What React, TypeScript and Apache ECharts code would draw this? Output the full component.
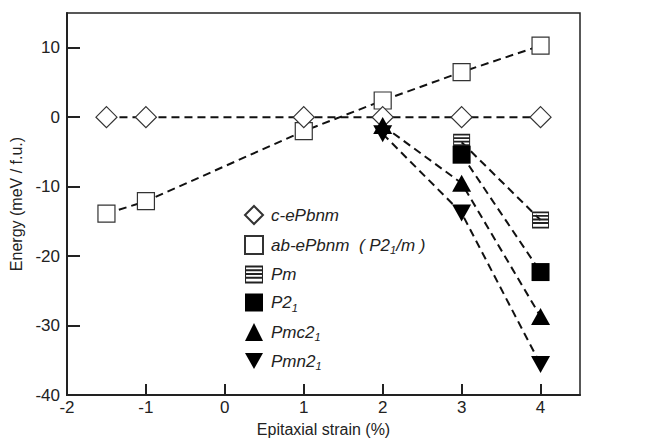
import React, { useEffect, useRef } from "react";
import * as echarts from "echarts";

const strainC = [-1.5, -1, 1, 2, 3, 4];
const energyC = [0, 0, 0, 0, 0, 0];
const strainAB = [-1.5, -1, 1, 2, 3, 4];
const energyAB = [-13.9, -12.1, -2.0, 2.4, 6.5, 10.3];
const strainPm = [3, 4];
const energyPm = [-3.6, -14.8];
const strainP21 = [3, 4];
const energyP21 = [-5.4, -22.3];
const strainPmc = [2, 3, 4];
const energyPmc = [-1.2, -9.5, -28.7];
const strainPmn = [2, 3, 4];
const energyPmn = [-2.4, -13.8, -35.6];

const seriesNames = ["c-ePbnm", "ab-ePbnm", "Pm", "P21", "Pmc21", "Pmn21"];
const legendLabels: Record<string, string> = {
  "c-ePbnm": "{i|c-ePbnm}",
  "ab-ePbnm": "{i|ab-ePbnm  ( P2}{s|1}{i|/m )}",
  Pm: "{i|Pm}",
  P21: "{i|P2}{s|1}",
  Pmc21: "{i|Pmc2}{s|1}",
  Pmn21: "{i|Pmn2}{s|1}",
};

const pmPath =
  "path://M0,0h12v1.3H0Z M0,2.5h12v1.3H0Z M0,5h12v1.3H0Z M0,7.5h12v1.3H0Z M0,10.7h12v1.3H0Z M0,0h0.7v12H0Z M11.3,0h0.7v12h-0.7Z";
const downTri = "path://M0,0L10,0L5,9Z";

const zip = (xs: number[], ys: number[]) => xs.map((x, i) => [x, ys[i]]);

export default function App() {
  const ref = useRef<HTMLDivElement>(null);
  useEffect(() => {
    if (!ref.current) return;
    document.body.style.margin = "0";
    document.body.style.overflow = "hidden";
    const chart = echarts.init(ref.current, undefined, { renderer: "svg" });
    const dash = { type: [8, 5] as any, width: 2, color: "#111" };
    const base = { type: "line", lineStyle: dash, showSymbol: true, z: 2 };
    chart.setOption({
      animation: false,
      textStyle: { fontFamily: "Liberation Sans, Arial, sans-serif" },
      grid: {
        left: 67,
        right: 67,
        top: 13,
        bottom: 42,
        show: true,
        borderColor: "#222",
        borderWidth: 1.5,
      },
      xAxis: {
        type: "value",
        min: -2,
        max: 4.5,
        interval: 1,
        name: "Epitaxial strain (%)",
        nameLocation: "middle",
        nameGap: 26,
        nameTextStyle: { fontSize: 16, color: "#222" },
        axisLine: { onZero: false, lineStyle: { color: "#222", width: 2 } },
        axisTick: { inside: true, length: 11, lineStyle: { color: "#222", width: 2 } },
        axisLabel: { fontSize: 17, color: "#222", margin: 4, showMaxLabel: false },
        splitLine: { show: false },
      },
      yAxis: {
        type: "value",
        min: -40,
        max: 15,
        interval: 10,
        name: "Energy (meV / f.u.)",
        nameLocation: "middle",
        nameGap: 38,
        nameTextStyle: { fontSize: 16, color: "#222" },
        axisLine: { onZero: false, lineStyle: { color: "#222", width: 2 } },
        axisTick: { inside: true, length: 13, lineStyle: { color: "#222", width: 2 } },
        axisLabel: { fontSize: 17, color: "#222", margin: 7, showMaxLabel: false },
        splitLine: { show: false },
      },
      legend: {
        orient: "vertical",
        left: 239,
        top: 200,
        itemWidth: 18,
        itemHeight: 18,
        itemGap: 10,
        selectedMode: false,
        data: [
          { name: "c-ePbnm", icon: "diamond" },
          { name: "ab-ePbnm", icon: "rect" },
          { name: "Pm", icon: pmPath },
          { name: "P21", icon: "rect" },
          { name: "Pmc21", icon: "triangle" },
          { name: "Pmn21", icon: downTri },
        ],
        formatter: (n: string) => legendLabels[n],
        textStyle: {
          padding: [0, 0, 0, 3],
          rich: {
            i: { fontSize: 17, fontStyle: "italic", color: "#222", fontFamily: "Liberation Sans" },
            s: { fontSize: 11, fontStyle: "italic", color: "#222", fontFamily: "Liberation Sans", padding: [10, 0, 0, 0] },
          },
        },
      },
      series: [
        {
          ...base,
          name: seriesNames[1],
          data: zip(strainAB, energyAB),
          symbol: "rect",
          symbolSize: 17,
          itemStyle: { color: "#fff", borderColor: "#333", borderWidth: 1.2 },
        },
        {
          ...base,
          name: seriesNames[0],
          data: zip(strainC, energyC),
          symbol: "diamond",
          symbolSize: [21, 21],
          itemStyle: { color: "#fff", borderColor: "#333", borderWidth: 1.2 },
        },
        {
          ...base,
          name: seriesNames[2],
          data: zip(strainPm, energyPm),
          symbol: pmPath,
          symbolSize: 17,
          itemStyle: { color: "#222" },
        },
        {
          ...base,
          name: seriesNames[3],
          data: zip(strainP21, energyP21),
          symbol: "rect",
          symbolSize: 18,
          itemStyle: { color: "#000" },
        },
        {
          ...base,
          name: seriesNames[4],
          data: zip(strainPmc, energyPmc),
          symbol: "triangle",
          symbolSize: [19, 17],
          itemStyle: { color: "#000" },
        },
        {
          ...base,
          name: seriesNames[5],
          data: zip(strainPmn, energyPmn),
          symbol: downTri,
          symbolSize: [19, 17],
          itemStyle: { color: "#000" },
        },
      ],
    });
    return () => chart.dispose();
  }, []);
  return <div ref={ref} style={{ width: 647, height: 442 }} />;
}
